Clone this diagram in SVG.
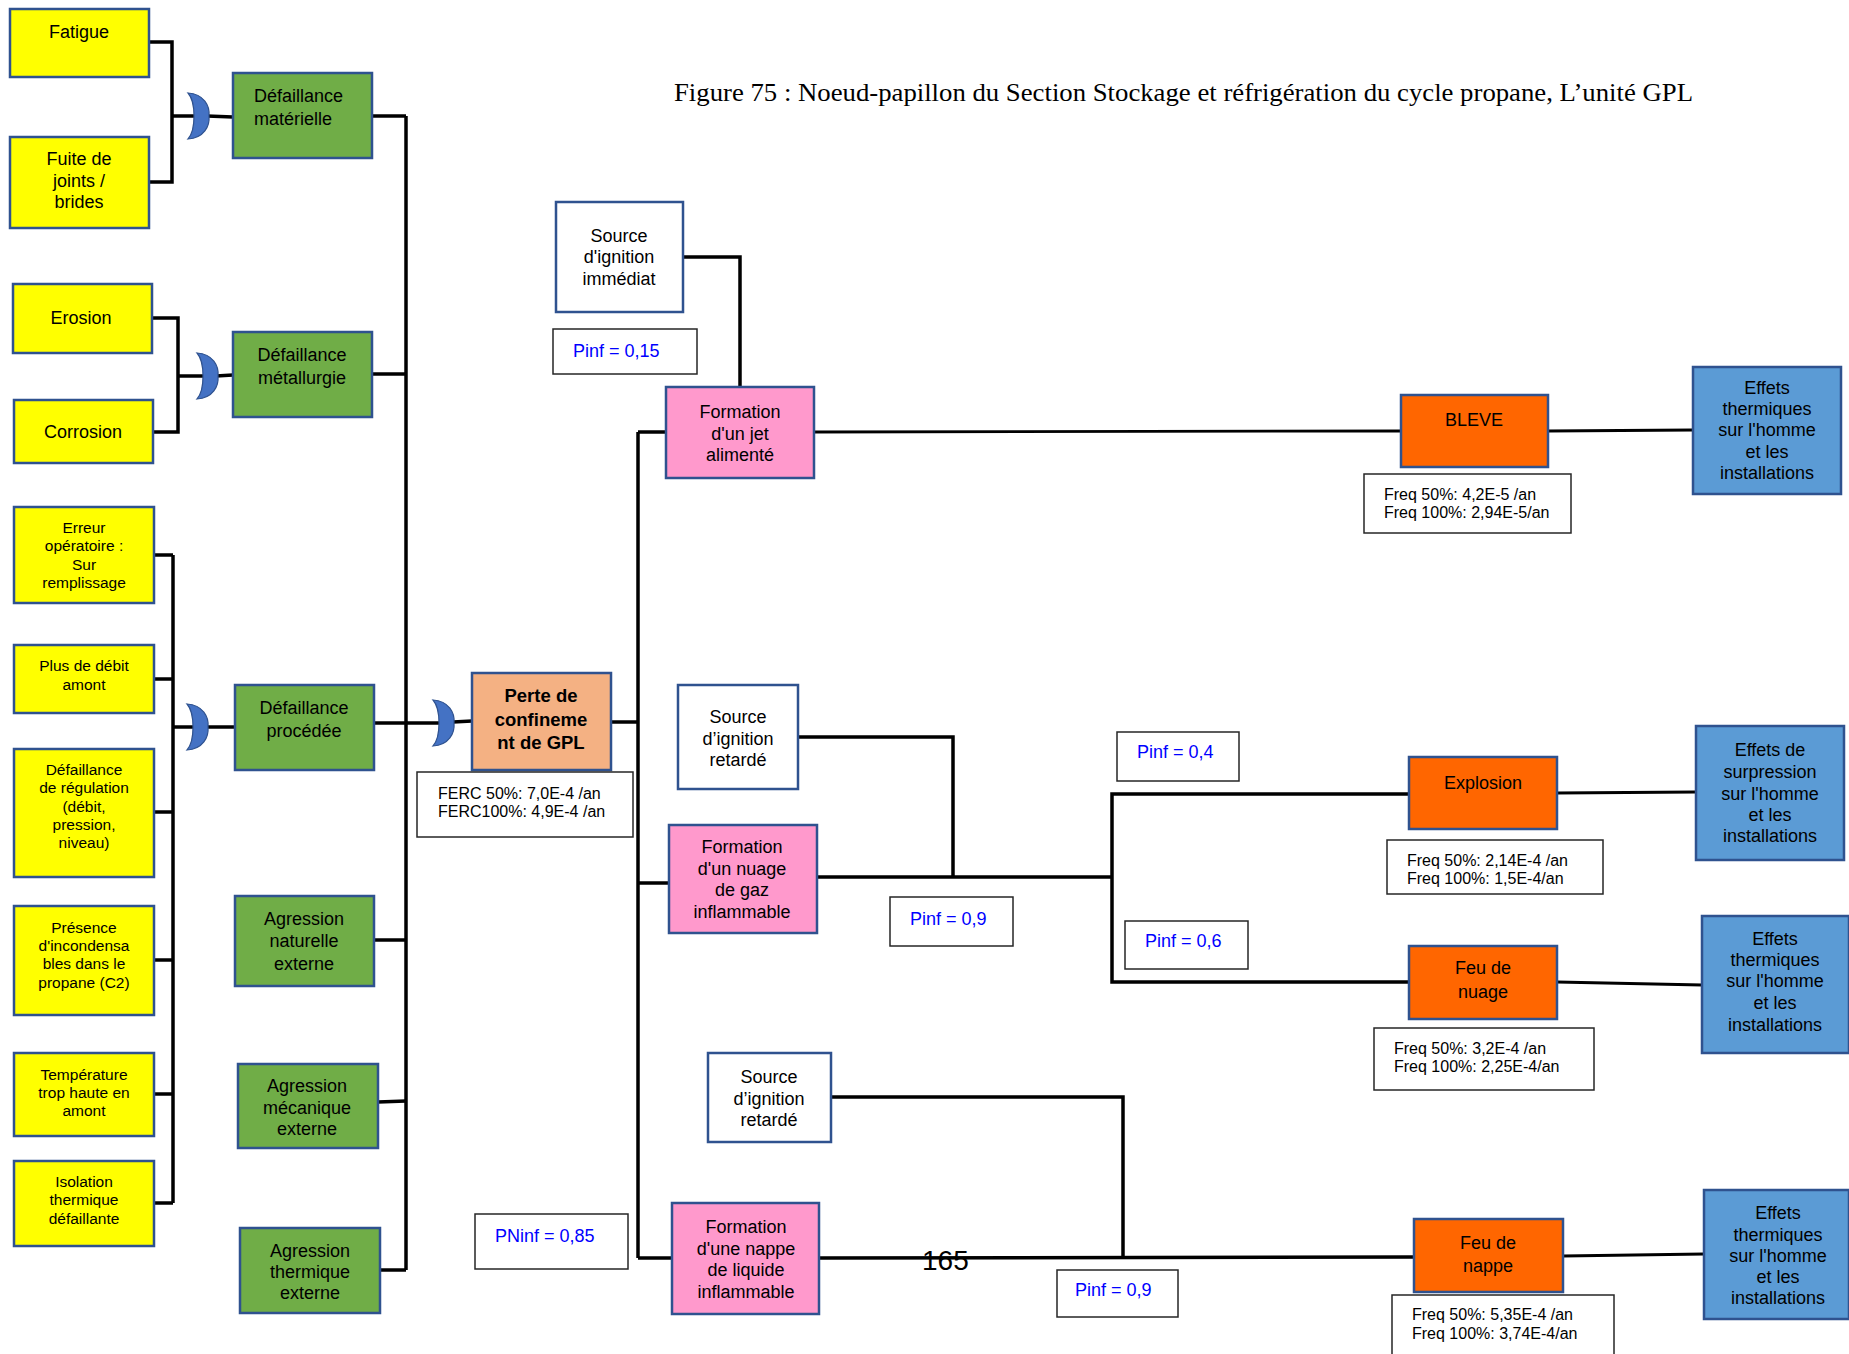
<svg xmlns="http://www.w3.org/2000/svg" width="1849" height="1354" viewBox="0 0 1849 1354">
  <style>
    text { font-family: "Liberation Sans", Arial, sans-serif; fill: #000; }
    .box { stroke: #2F528F; stroke-width: 2.5; }
    .cause { fill: #FFFF00; }
    .event { fill: #70AD47; }
    .top { fill: #F4B183; }
    .form { fill: #FF99CC; }
    .src { fill: #FFFFFF; }
    .phen { fill: #FF6600; }
    .eff { fill: #5B9BD5; }
    .note { fill: #FFFFFF; stroke: #262626; stroke-width: 1.5; }
    .t18 { font-size: 18px; text-anchor: middle; }
    .t15 { font-size: 15.5px; text-anchor: middle; }
    .tb { font-size: 18.5px; font-weight: bold; text-anchor: middle; }
    .prob { font-size: 18px; fill: #0000FF; }
    .freq { font-size: 16px; }
    .wire { fill: none; stroke: #000; stroke-width: 3.5; stroke-linejoin: miter; }
    .wire-thin { fill: none; stroke: #000; stroke-width: 2.8; }
    .gate { fill: #4472C4; stroke: #2F528F; stroke-width: 1.2; }
    .title { font-family: "Liberation Serif", "Times New Roman", serif; font-size: 25px; }
  </style>
  <defs>
    <!-- crescent OR gate -->
    <path id="orgate" d="M -10,-23 C 6,-22 12,-10 11,0 C 12,10 6,22 -10,23 C -2,14 -2,-14 -10,-23 Z"/>
  </defs>

  <rect width="1849" height="1354" fill="#FFFFFF"/>

  <text class="title" x="674" y="101" textLength="1019" lengthAdjust="spacingAndGlyphs">Figure 75 : Noeud-papillon du Section Stockage et réfrigération du cycle propane, L’unité GPL</text>

  <!-- connectors -->
  <g id="connectors">
    <!-- left side: causes to intermediate events -->
    <polyline class="wire" points="149,42 172,42 172,182 149,182"/>
    <line class="wire" x1="172" y1="116" x2="198" y2="116"/>
    <line class="wire" x1="207" y1="116" x2="233" y2="117"/>

    <polyline class="wire" points="152,318 178,318 178,432 153,432"/>
    <line class="wire" x1="178" y1="376" x2="206" y2="376"/>
    <line class="wire" x1="216" y1="376" x2="233" y2="375"/>

    <line class="wire" x1="173" y1="555" x2="173" y2="1203"/>
    <line class="wire" x1="154" y1="555" x2="173" y2="555"/>
    <line class="wire" x1="154" y1="679" x2="173" y2="679"/>
    <line class="wire" x1="154" y1="812" x2="173" y2="812"/>
    <line class="wire" x1="154" y1="960" x2="173" y2="960"/>
    <line class="wire" x1="154" y1="1094" x2="173" y2="1094"/>
    <line class="wire" x1="154" y1="1203" x2="173" y2="1203"/>
    <line class="wire" x1="173" y1="727" x2="196" y2="727"/>
    <line class="wire" x1="206" y1="727" x2="235" y2="727"/>

    <!-- intermediate events to the top event -->
    <line class="wire" x1="406" y1="116" x2="406" y2="1270"/>
    <line class="wire" x1="372" y1="116" x2="406" y2="116"/>
    <line class="wire" x1="372" y1="374" x2="406" y2="374"/>
    <line class="wire" x1="374" y1="723" x2="406" y2="723"/>
    <line class="wire" x1="374" y1="940" x2="406" y2="940"/>
    <line class="wire" x1="378" y1="1102" x2="406" y2="1101"/>
    <line class="wire" x1="380" y1="1270" x2="406" y2="1270"/>
    <line class="wire" x1="406" y1="723" x2="442" y2="723"/>
    <line class="wire" x1="453" y1="722" x2="472" y2="721"/>

    <!-- top event to release scenarios -->
    <line class="wire" x1="611" y1="722" x2="638" y2="722"/>
    <line class="wire" x1="638" y1="432" x2="638" y2="1258"/>
    <line class="wire" x1="638" y1="432" x2="666" y2="432"/>
    <line class="wire" x1="638" y1="883" x2="669" y2="883"/>
    <line class="wire" x1="638" y1="1258" x2="672" y2="1258"/>

    <!-- jet branch -->
    <polyline class="wire" points="683,257 740,257 740,387"/>
    <line class="wire-thin" x1="814" y1="432" x2="1401" y2="431"/>
    <line class="wire-thin" x1="1548" y1="431" x2="1693" y2="430"/>

    <!-- cloud branch -->
    <polyline class="wire" points="798,737 953,737 953,877"/>
    <line class="wire" x1="817" y1="877" x2="1112" y2="877"/>
    <polyline class="wire" points="1409,794 1112,794 1112,982 1409,982"/>
    <line class="wire-thin" x1="1557" y1="793" x2="1696" y2="792"/>
    <line class="wire-thin" x1="1557" y1="982" x2="1702" y2="985"/>

    <!-- pool branch -->
    <polyline class="wire" points="831,1097 1123,1097 1123,1257"/>
    <line class="wire" x1="819" y1="1258" x2="1415" y2="1257"/>
    <line class="wire-thin" x1="1563" y1="1256" x2="1704" y2="1254"/>
  </g>

  <!-- gates -->
  <g id="gate-materielle"><use href="#orgate" class="gate" transform="translate(198,116)"/></g>
  <g id="gate-metallurgie"><use href="#orgate" class="gate" transform="translate(207,376)"/></g>
  <g id="gate-procedee"><use href="#orgate" class="gate" transform="translate(197,727)"/></g>
  <g id="gate-perte"><use href="#orgate" class="gate" transform="translate(443,723)"/></g>

  <!-- causes -->
  <g id="fatigue">
    <rect class="box cause" x="10" y="9" width="139" height="68"/>
    <text class="t18" x="79" y="38">Fatigue</text>
  </g>
  <g id="fuite">
    <rect class="box cause" x="10" y="137" width="139" height="91"/>
    <text class="t18" x="79" y="165">Fuite de</text>
    <text class="t18" x="79" y="187">joints /</text>
    <text class="t18" x="79" y="208">brides</text>
  </g>
  <g id="erosion">
    <rect class="box cause" x="13" y="284" width="139" height="69"/>
    <text class="t18" x="81" y="324">Erosion</text>
  </g>
  <g id="corrosion">
    <rect class="box cause" x="14" y="400" width="139" height="63"/>
    <text class="t18" x="83" y="438">Corrosion</text>
  </g>
  <g id="erreur">
    <rect class="box cause" x="14" y="507" width="140" height="96"/>
    <text class="t15" x="84" y="533">Erreur</text>
    <text class="t15" x="84" y="551">opératoire :</text>
    <text class="t15" x="84" y="570">Sur</text>
    <text class="t15" x="84" y="588">remplissage</text>
  </g>
  <g id="debit">
    <rect class="box cause" x="14" y="645" width="140" height="68"/>
    <text class="t15" x="84" y="671">Plus de débit</text>
    <text class="t15" x="84" y="690">amont</text>
  </g>
  <g id="regulation">
    <rect class="box cause" x="14" y="749" width="140" height="128"/>
    <text class="t15" x="84" y="775">Défaillance</text>
    <text class="t15" x="84" y="793">de régulation</text>
    <text class="t15" x="84" y="812">(débit,</text>
    <text class="t15" x="84" y="830">pression,</text>
    <text class="t15" x="84" y="848">niveau)</text>
  </g>
  <g id="incondensables">
    <rect class="box cause" x="14" y="906" width="140" height="109"/>
    <text class="t15" x="84" y="933">Présence</text>
    <text class="t15" x="84" y="951">d'incondensa</text>
    <text class="t15" x="84" y="969">bles dans le</text>
    <text class="t15" x="84" y="988">propane (C2)</text>
  </g>
  <g id="temperature">
    <rect class="box cause" x="14" y="1053" width="140" height="83"/>
    <text class="t15" x="84" y="1080">Température</text>
    <text class="t15" x="84" y="1098">trop haute en</text>
    <text class="t15" x="84" y="1116">amont</text>
  </g>
  <g id="isolation">
    <rect class="box cause" x="14" y="1161" width="140" height="85"/>
    <text class="t15" x="84" y="1187">Isolation</text>
    <text class="t15" x="84" y="1205">thermique</text>
    <text class="t15" x="84" y="1224">défaillante</text>
  </g>

  <!-- intermediate events -->
  <g id="def-materielle">
    <rect class="box event" x="233" y="73" width="139" height="85"/>
    <text x="254" y="102" font-size="18">Défaillance</text>
    <text x="254" y="125" font-size="18">matérielle</text>
  </g>
  <g id="def-metallurgie">
    <rect class="box event" x="233" y="332" width="139" height="85"/>
    <text class="t18" x="302" y="361">Défaillance</text>
    <text class="t18" x="302" y="384">métallurgie</text>
  </g>
  <g id="def-procedee">
    <rect class="box event" x="235" y="685" width="139" height="85"/>
    <text class="t18" x="304" y="714">Défaillance</text>
    <text class="t18" x="304" y="737">procédée</text>
  </g>
  <g id="agr-naturelle">
    <rect class="box event" x="235" y="896" width="139" height="90"/>
    <text class="t18" x="304" y="925">Agression</text>
    <text class="t18" x="304" y="947">naturelle</text>
    <text class="t18" x="304" y="970">externe</text>
  </g>
  <g id="agr-mecanique">
    <rect class="box event" x="238" y="1064" width="140" height="84"/>
    <text class="t18" x="307" y="1092">Agression</text>
    <text class="t18" x="307" y="1114">mécanique</text>
    <text class="t18" x="307" y="1135">externe</text>
  </g>
  <g id="agr-thermique">
    <rect class="box event" x="240" y="1228" width="140" height="85"/>
    <text class="t18" x="310" y="1257">Agression</text>
    <text class="t18" x="310" y="1278">thermique</text>
    <text class="t18" x="310" y="1299">externe</text>
  </g>

  <!-- top event -->
  <g id="perte-confinement">
    <rect class="box top" x="472" y="673" width="139" height="97"/>
    <text class="tb" x="541" y="702">Perte de</text>
    <text class="tb" x="541" y="726">confineme</text>
    <text class="tb" x="541" y="749">nt de GPL</text>
  </g>
  <g id="ferc">
    <rect class="note" x="417" y="772" width="216" height="65"/>
    <text class="freq" x="438" y="798.5">FERC 50%: 7,0E-4 /an</text>
    <text class="freq" x="438" y="816.5">FERC100%: 4,9E-4 /an</text>
  </g>
  <g id="pninf">
    <rect class="note" x="475" y="1214" width="153" height="55"/>
    <text class="prob" x="495" y="1242">PNinf = 0,85</text>
  </g>

  <!-- jet branch -->
  <g id="src-immediat">
    <rect class="box src" x="556" y="202" width="127" height="110"/>
    <text class="t18" x="619" y="242">Source</text>
    <text class="t18" x="619" y="263">d'ignition</text>
    <text class="t18" x="619" y="285">immédiat</text>
  </g>
  <g id="pinf-015">
    <rect class="note" x="553" y="329" width="144" height="45"/>
    <text class="prob" x="573" y="357">Pinf = 0,15</text>
  </g>
  <g id="jet">
    <rect class="box form" x="666" y="387" width="148" height="91"/>
    <text class="t18" x="740" y="418">Formation</text>
    <text class="t18" x="740" y="440">d'un jet</text>
    <text class="t18" x="740" y="461">alimenté</text>
  </g>
  <g id="bleve">
    <rect class="box phen" x="1401" y="395" width="147" height="72"/>
    <text class="t18" x="1474" y="426">BLEVE</text>
  </g>
  <g id="freq-bleve">
    <rect class="note" x="1364" y="474" width="207" height="59"/>
    <text class="freq" x="1384" y="499.5">Freq 50%: 4,2E-5 /an</text>
    <text class="freq" x="1384" y="517.5">Freq 100%: 2,94E-5/an</text>
  </g>
  <g id="eff-bleve">
    <rect class="box eff" x="1693" y="367" width="148" height="127"/>
    <text class="t18" x="1767" y="394">Effets</text>
    <text class="t18" x="1767" y="415">thermiques</text>
    <text class="t18" x="1767" y="436">sur l'homme</text>
    <text class="t18" x="1767" y="458">et les</text>
    <text class="t18" x="1767" y="479">installations</text>
  </g>

  <!-- cloud branch -->
  <g id="src-retarde-1">
    <rect class="box src" x="678" y="685" width="120" height="104"/>
    <text class="t18" x="738" y="723">Source</text>
    <text class="t18" x="738" y="745">d’ignition</text>
    <text class="t18" x="738" y="766">retardé</text>
  </g>
  <g id="nuage">
    <rect class="box form" x="669" y="825" width="148" height="108"/>
    <text class="t18" x="742" y="853">Formation</text>
    <text class="t18" x="742" y="875">d'un nuage</text>
    <text class="t18" x="742" y="896">de gaz</text>
    <text class="t18" x="742" y="918">inflammable</text>
  </g>
  <g id="pinf-09a">
    <rect class="note" x="890" y="897" width="123" height="49"/>
    <text class="prob" x="910" y="925">Pinf = 0,9</text>
  </g>
  <g id="pinf-04">
    <rect class="note" x="1117" y="732" width="122" height="49"/>
    <text class="prob" x="1137" y="758">Pinf = 0,4</text>
  </g>
  <g id="pinf-06">
    <rect class="note" x="1125" y="921" width="123" height="48"/>
    <text class="prob" x="1145" y="947">Pinf = 0,6</text>
  </g>
  <g id="explosion">
    <rect class="box phen" x="1409" y="757" width="148" height="72"/>
    <text class="t18" x="1483" y="789">Explosion</text>
  </g>
  <g id="freq-explosion">
    <rect class="note" x="1387" y="840" width="216" height="54"/>
    <text class="freq" x="1407" y="865.5">Freq 50%: 2,14E-4 /an</text>
    <text class="freq" x="1407" y="883.5">Freq 100%: 1,5E-4/an</text>
  </g>
  <g id="eff-explosion">
    <rect class="box eff" x="1696" y="726" width="148" height="134"/>
    <text class="t18" x="1770" y="756">Effets de</text>
    <text class="t18" x="1770" y="778">surpression</text>
    <text class="t18" x="1770" y="800">sur l'homme</text>
    <text class="t18" x="1770" y="821">et les</text>
    <text class="t18" x="1770" y="842">installations</text>
  </g>
  <g id="feu-nuage">
    <rect class="box phen" x="1409" y="946" width="148" height="73"/>
    <text class="t18" x="1483" y="974">Feu de</text>
    <text class="t18" x="1483" y="998">nuage</text>
  </g>
  <g id="freq-feu-nuage">
    <rect class="note" x="1374" y="1028" width="220" height="62"/>
    <text class="freq" x="1394" y="1053.5">Freq 50%: 3,2E-4 /an</text>
    <text class="freq" x="1394" y="1071.5">Freq 100%: 2,25E-4/an</text>
  </g>
  <g id="eff-feu-nuage">
    <rect class="box eff" x="1702" y="916" width="147" height="137"/>
    <text class="t18" x="1775" y="945">Effets</text>
    <text class="t18" x="1775" y="966">thermiques</text>
    <text class="t18" x="1775" y="987">sur l'homme</text>
    <text class="t18" x="1775" y="1009">et les</text>
    <text class="t18" x="1775" y="1031">installations</text>
  </g>

  <!-- pool branch -->
  <g id="src-retarde-2">
    <rect class="box src" x="708" y="1053" width="123" height="89"/>
    <text class="t18" x="769" y="1083">Source</text>
    <text class="t18" x="769" y="1105">d’ignition</text>
    <text class="t18" x="769" y="1126">retardé</text>
  </g>
  <g id="nappe">
    <rect class="box form" x="672" y="1203" width="147" height="111"/>
    <text class="t18" x="746" y="1233">Formation</text>
    <text class="t18" x="746" y="1255">d'une nappe</text>
    <text class="t18" x="746" y="1276">de liquide</text>
    <text class="t18" x="746" y="1298">inflammable</text>
  </g>
  <g id="pinf-09b">
    <rect class="note" x="1057" y="1270" width="121" height="47"/>
    <text class="prob" x="1075" y="1296">Pinf = 0,9</text>
  </g>
  <g id="feu-nappe">
    <rect class="box phen" x="1414" y="1219" width="149" height="73"/>
    <text class="t18" x="1488" y="1249">Feu de</text>
    <text class="t18" x="1488" y="1272">nappe</text>
  </g>
  <g id="freq-feu-nappe">
    <rect class="note" x="1392" y="1295" width="222" height="70"/>
    <text class="freq" x="1412" y="1319.5">Freq 50%: 5,35E-4 /an</text>
    <text class="freq" x="1412" y="1338.5">Freq 100%: 3,74E-4/an</text>
  </g>
  <g id="eff-feu-nappe">
    <rect class="box eff" x="1704" y="1190" width="145" height="129"/>
    <text class="t18" x="1778" y="1219">Effets</text>
    <text class="t18" x="1778" y="1241">thermiques</text>
    <text class="t18" x="1778" y="1262">sur l'homme</text>
    <text class="t18" x="1778" y="1283">et les</text>
    <text class="t18" x="1778" y="1304">installations</text>
  </g>

  <text x="922" y="1270" font-family="Liberation Serif, serif" font-size="28">165</text>
</svg>
